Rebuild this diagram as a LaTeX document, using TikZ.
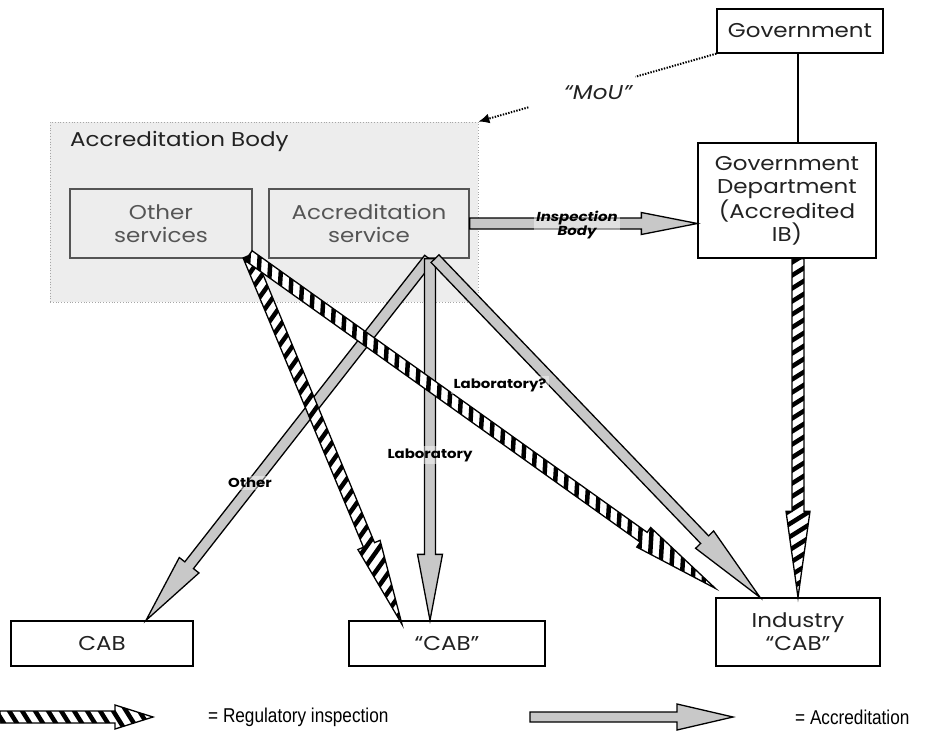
\documentclass[tikz,border=0pt]{standalone}
\usepackage{fontspec}
\setmainfont{Poppins}[FakeStretch=1.15]
\newfontfamily\legendfont[FakeStretch=0.86]{Liberation Sans}
\usetikzlibrary{calc,arrows.meta}

\definecolor{shade}{HTML}{EDEDED}
\definecolor{arrowgray}{HTML}{C8C8C8}
\definecolor{servtext}{HTML}{555555}
\definecolor{ink}{HTML}{222222}

% Corner points of a block arrow from #1 to #2:
% shaft half width #3, head half width #4, head length #5
\newcommand\arrowoutline[5]{%
  \coordinate (ba-h) at ($(#2)!#5!(#1)$);
  \coordinate (ba-1) at ($(#1)!#3!90:(#2)$);
  \coordinate (ba-2) at ($(ba-h)!#3!90:(#2)$);
  \coordinate (ba-3) at ($(ba-h)!#4!90:(#2)$);
  \coordinate (ba-4) at (#2);
  \coordinate (ba-5) at ($(ba-h)!#4!-90:(#2)$);
  \coordinate (ba-6) at ($(ba-h)!#3!-90:(#2)$);
  \coordinate (ba-7) at ($(#1)!#3!-90:(#2)$);
}

% Plain grey block arrow (accreditation)
\newcommand\accarrow[5]{%
  \arrowoutline{#1}{#2}{#3}{#4}{#5}
  \draw[accshape] (ba-1) -- (ba-2) -- (ba-3) -- (ba-4) -- (ba-5) -- (ba-6) -- (ba-7) -- cycle;
}

% Striped block arrow (regulatory inspection); #6 = slant of the stripes
\newcommand\regarrow[6]{%
  \arrowoutline{#1}{#2}{#3}{#4}{#5}
  \coordinate (ba-s) at ($(#1)!30pt!#6:(#2)$);
  \begin{scope}
    \clip (ba-1) -- (ba-2) -- (ba-3) -- (ba-4) -- (ba-5) -- (ba-6) -- (ba-7) -- cycle;
    \fill[white] (ba-1) -- (ba-2) -- (ba-3) -- (ba-4) -- (ba-5) -- (ba-6) -- (ba-7) -- cycle;
    \foreach \d in {0,13,...,728} {
      \draw[stripe] ($(#1)!\d pt!(#2) + (ba-s) - (#1)$) -- ($(#1)!\d pt!(#2) - (ba-s) + (#1)$);
    }
  \end{scope}
  \draw[regshape] (ba-1) -- (ba-2) -- (ba-3) -- (ba-4) -- (ba-5) -- (ba-6) -- (ba-7) -- cycle;
}

\tikzset{
  txt/.style={font=\fontsize{20}{23}\selectfont, text=ink},
  box/.style={txt, draw=black, line width=1.3pt, fill=white, align=center, inner sep=0pt},
  svcbox/.style={txt, text=servtext, draw=servtext, line width=1.3pt, fill=shade, align=center, inner sep=0pt},
  abregion/.style={draw=gray!70, fill=shade, dotted, line width=0.8pt, inner sep=0pt},
  accshape/.style={draw=black, fill=arrowgray, line width=1.3pt, line join=miter},
  regshape/.style={draw=black, line width=1.3pt, line join=miter},
  stripe/.style={draw=black, line width=4.5pt},
  mou/.style={draw=black, line width=2pt, dash pattern=on 1.4pt off 1.4pt},
  lab/.style={font=\bfseries\fontsize{13}{14}\selectfont, fill=white, fill opacity=0.45, text opacity=1, inner sep=2.5pt, align=center},
  legend/.style={font=\legendfont\fontsize{20}{22}\selectfont, anchor=west, inner sep=0pt}
}

\begin{document}
\begin{tikzpicture}[x=1pt,y=-1pt]
\useasboundingbox (0,0) rectangle (927,742);

% Accreditation body and its services
\node[abregion, minimum width=428, minimum height=180] (ab) at (264,212) {};
\node[txt, anchor=west, inner sep=0pt] (abtitle) at (70,141) {Accreditation Body};
\node[svcbox, minimum width=182, minimum height=69] (other) at (161,223.5) {Other\\services};
\node[svcbox, minimum width=200, minimum height=69] (accsvc) at (369,223.5) {Accreditation\\service};

% Government side
\node[box, minimum width=166, minimum height=44] (gov) at (800,31) {Government};
\node[box, minimum width=178, minimum height=115] (govdept) at (787,200.5) {Government\\Department\\(Accredited\\IB)};
\draw[line width=1.3pt] (gov.south -| 798,0) -- (govdept.north -| 798,0);

% Conformity assessment bodies
\node[box, minimum width=182, minimum height=45] (cab) at (102,643.5) {CAB};
\node[box, minimum width=196, minimum height=45] (qcab) at (447,643.5) {“CAB”};
\node[box, minimum width=164, minimum height=68] (ind) at (798,632) {Industry\\“CAB”};

% Memorandum of understanding
\coordinate (mou1) at ($(gov.south west)!0.34!(ab.north east)$);
\coordinate (mou2) at ($(gov.south west)!0.79!(ab.north east)$);
\draw[mou] (gov.south west) -- (mou1);
\draw[mou, -{Latex[length=11pt,width=10pt]}] (mou2) -- (ab.north east);
\node[txt, font=\itshape\fontsize{20}{23}\selectfont, inner sep=0pt] (moulabel) at (598,93) {“MoU”};

% Accreditation arrows
\accarrow{[xshift=60]accsvc.south}{[xshift=44]cab.north}{5.5pt}{12.5pt}{70pt}
\accarrow{[xshift=61]accsvc.south}{[xshift=-17]qcab.north}{5.5pt}{12.5pt}{66pt}
\accarrow{[xshift=66]accsvc.south}{[xshift=-38]ind.north}{5.5pt}{12.5pt}{80pt}

% Regulatory inspection arrows
\regarrow{[shift={(-4,-3)}]other.south east}{[shift={(-45,4)}]qcab.north}{6pt}{12pt}{86pt}{-58}
\regarrow{[shift={(-4,-3)}]other.south east}{[yshift=9]ind.north west}{6pt}{12pt}{88pt}{-58}
\regarrow{ind.north |- govdept.south}{ind.north}{6pt}{12pt}{86pt}{-58}

% Accreditation of the government inspection body
\accarrow{accsvc.east}{govdept.west |- accsvc.east}{5.5pt}{11pt}{56pt}

% Arrow labels
\node[lab, font=\bfseries\itshape\fontsize{13}{14}\selectfont] (iblabel) at (577,225) {Inspection\\Body};
\node[lab] (lab2) at (500,385) {Laboratory?};
\node[lab] (lab1) at (430,455) {Laboratory};
\node[lab] (lab0) at (250,483) {Other};

% Legend
\coordinate (lg1s) at (0,717);
\coordinate (lg1t) at (153,717);
\regarrow{lg1s}{lg1t}{6pt}{12pt}{38pt}{-58}
\node[legend] (lg1) at (208,717) {= Regulatory inspection};
\coordinate (lg2s) at (530,717);
\coordinate (lg2t) at (733,717);
\accarrow{lg2s}{lg2t}{5pt}{13pt}{56pt}
\node[legend] (lg2) at (795,717) {= Accreditation};
\end{tikzpicture}
\end{document}
